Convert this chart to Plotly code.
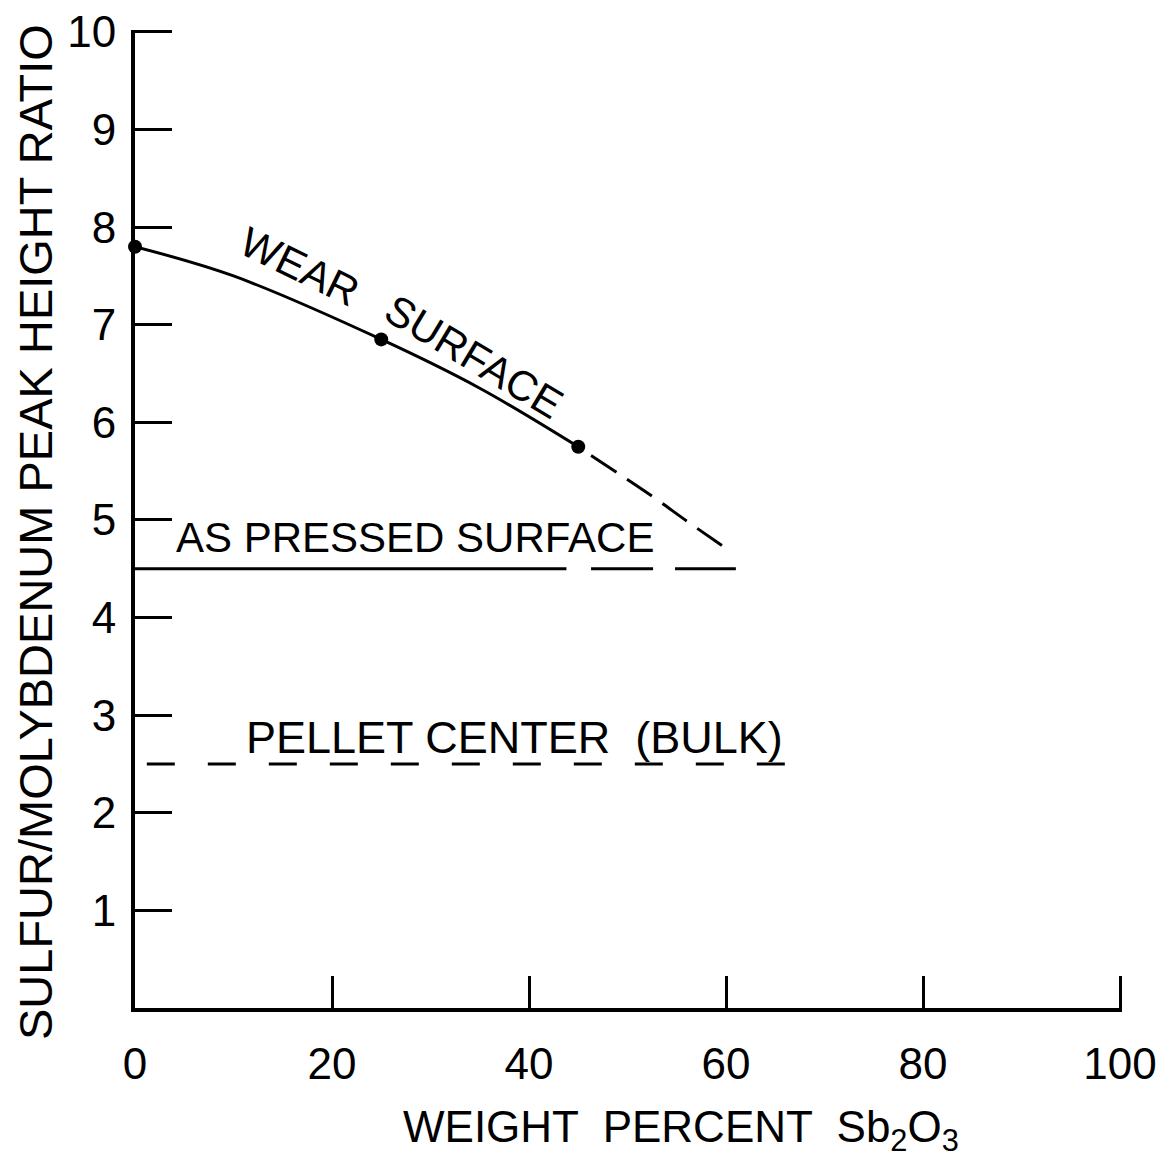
import plotly.graph_objects as go

# ---- data ----
x_ticks = [0, 20, 40, 60, 80, 100]
x_ticktext = ["0", "20", "40", "60", "80", "100"]
y_ticks = [1, 2, 3, 4, 5, 6, 7, 8, 9, 10]
y_ticktext = ["1", "2", "3", "4", "5", "6", "7", "8", "9", "10"]

# Wear surface measured points
wear_x = [0, 25, 45]
wear_y = [7.8, 6.85, 5.75]
# Wear surface smooth curve (solid part)
wear_curve_x = [0, 10, 25, 35, 45]
wear_curve_y = [7.8, 7.5, 6.85, 6.35, 5.75]
# Wear surface extrapolation (dashed part)
wear_ext_x = [46.3, 52.4, 56.0, 60.0]
wear_ext_y = [5.66, 5.25, 4.99, 4.71]

# As pressed surface
pressed_solid_x = [0, 43.8]
pressed_solid_y = [4.5, 4.5]
pressed_dash_x = [46.3, 61.0]
pressed_dash_y = [4.5, 4.5]

# Pellet center (bulk)
pellet_x = [1.2, 67.4]
pellet_y = [2.5, 2.5]

FONT = "Liberation Sans, Arial, sans-serif"
BLACK = "#000000"

fig = go.Figure()

fig.add_trace(go.Scatter(x=wear_curve_x, y=wear_curve_y, mode="lines",
                         line=dict(color=BLACK, width=3, shape="spline"),
                         showlegend=False, hoverinfo="skip"))
fig.add_trace(go.Scatter(x=wear_ext_x, y=wear_ext_y, mode="lines",
                         line=dict(color=BLACK, width=3, shape="spline", dash="30px,13px"),
                         showlegend=False, hoverinfo="skip"))
fig.add_trace(go.Scatter(x=wear_x, y=wear_y, mode="markers",
                         marker=dict(color=BLACK, size=14),
                         cliponaxis=False, showlegend=False))
fig.add_trace(go.Scatter(x=pressed_solid_x, y=pressed_solid_y, mode="lines",
                         line=dict(color=BLACK, width=3),
                         showlegend=False, hoverinfo="skip"))
fig.add_trace(go.Scatter(x=pressed_dash_x, y=pressed_dash_y, mode="lines",
                         line=dict(color=BLACK, width=3, dash="62px,22px"),
                         showlegend=False, hoverinfo="skip"))
fig.add_trace(go.Scatter(x=pellet_x, y=pellet_y, mode="lines",
                         line=dict(color=BLACK, width=3, dash="28px,33px"),
                         showlegend=False, hoverinfo="skip"))

ann_font = dict(family=FONT, size=42, color=BLACK)
fig.add_annotation(x=28.4, y=4.82, text="AS PRESSED SURFACE", showarrow=False,
                   font=ann_font, xanchor="center", yanchor="middle")
fig.add_annotation(x=38.5, y=2.77, text="PELLET CENTER  (BULK)", showarrow=False,
                   font=dict(family=FONT, size=45, color=BLACK),
                   xanchor="center", yanchor="middle")
fig.add_annotation(x=16.7, y=7.6, text="WEAR", showarrow=False, textangle=26,
                   font=ann_font, xanchor="center", yanchor="middle")
fig.add_annotation(x=34.4, y=6.68, text="SURFACE", showarrow=False, textangle=31,
                   font=ann_font, xanchor="center", yanchor="middle")

# axis titles as annotations for exact placement
fig.add_annotation(xref="paper", yref="paper", x=0.553, y=-0.125,
                   text="WEIGHT  PERCENT  Sb<sub>2</sub>O<sub>3</sub>", showarrow=False,
                   font=dict(family=FONT, size=44, color=BLACK),
                   xanchor="center", yanchor="middle")
fig.add_annotation(xref="paper", yref="paper", x=-0.101, y=0.487,
                   text="SULFUR/MOLYBDENUM PEAK HEIGHT RATIO", showarrow=False,
                   textangle=-90,
                   font=dict(family=FONT, size=47, color=BLACK),
                   xanchor="center", yanchor="middle")

# ranges are extended a hair so the end ticks (10 and 100) are not clipped
fig.update_xaxes(range=[0, 100.2], tickvals=x_ticks, ticktext=x_ticktext,
                 showline=True, linecolor=BLACK, linewidth=4,
                 ticks="inside", ticklen=32, tickwidth=3, tickcolor=BLACK,
                 showgrid=False, zeroline=False, ticklabelstandoff=14,
                 automargin=False, ticklabeloverflow="allow",
                 tickfont=dict(family=FONT, size=44, color=BLACK))
fig.update_yaxes(range=[0, 10.02], tickvals=y_ticks, ticktext=y_ticktext,
                 showline=True, linecolor=BLACK, linewidth=4,
                 ticks="inside", ticklen=37, tickwidth=3, tickcolor=BLACK,
                 showgrid=False, zeroline=False, ticklabelstandoff=6,
                 automargin=False, ticklabeloverflow="allow",
                 tickfont=dict(family=FONT, size=44, color=BLACK))

# page body has an 8px default margin, so the figure is shrunk accordingly
fig.update_layout(width=1167, height=1150,
                  margin=dict(l=127, r=53, t=22, b=150, autoexpand=False),
                  paper_bgcolor="white", plot_bgcolor="white",
                  showlegend=False)

fig.write_html("out.html")
